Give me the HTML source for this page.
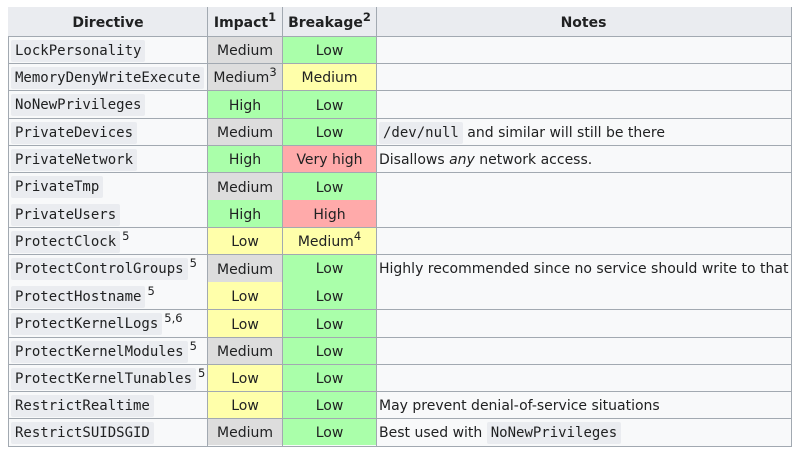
<!DOCTYPE html>
<html><head><meta charset="utf-8"><style>
body{margin:0;width:801px;height:453px;background:#fff;position:relative;overflow:hidden;font-family:"DejaVu Sans","Liberation Sans",sans-serif;font-size:14px;color:#202122}
.t{position:absolute;left:8px;top:7px;width:782px;height:438px;border:1px solid #a2a9b1;background:#f8f9fa}
.hd{position:absolute;left:8px;top:7px;width:783px;height:29px;background:#eaecf0}
.c{position:absolute;display:flex;align-items:center;white-space:nowrap}
.c>span{display:block;line-height:20px;padding-top:2px}
.ctr{justify-content:center}
.v{position:absolute;width:1px;top:7px;height:439px;background:#a2a9b1}
.h{position:absolute;left:8px;width:783px;height:1px;background:#a2a9b1}
code{font-family:"DejaVu Sans Mono","Liberation Mono",monospace;font-size:14px;background:#eaecf0;padding:3px 4px;border-radius:2px;color:#202122}
sup{font-size:11.5px;line-height:0;vertical-align:6px}
sup.s{margin-left:2px}
.g{background:#aaffaa}.y{background:#ffffaa}.m{background:#dddddd}.r{background:#ffaaaa}
.b{font-weight:bold}
</style></head><body>
<div class="t"></div>
<div class="hd"></div>
<div class="c ctr b" style="left:9px;top:7px;width:198px;height:29px"><span>Directive</span></div>
<div class="c ctr b" style="left:208px;top:7px;width:74px;height:29px"><span>Impact<sup>1</sup></span></div>
<div class="c ctr b" style="left:283px;top:7px;width:93px;height:29px"><span>Breakage<sup>2</sup></span></div>
<div class="c ctr b" style="left:377px;top:7px;width:413px;height:29px"><span>Notes</span></div>

<div class="c" style="left:11px;top:36px;height:27px"><span><code>LockPersonality</code></span></div>
<div class="c ctr m" style="left:208px;top:37px;width:74px;height:26px"><span>Medium</span></div>
<div class="c ctr g" style="left:283px;top:37px;width:93px;height:26px"><span>Low</span></div>

<div class="c" style="left:11px;top:63px;height:27px"><span><code>MemoryDenyWriteExecute</code></span></div>
<div class="c ctr m" style="left:208px;top:64px;width:74px;height:26px"><span>Medium<sup>3</sup></span></div>
<div class="c ctr y" style="left:283px;top:64px;width:93px;height:26px"><span>Medium</span></div>

<div class="c" style="left:11px;top:90px;height:28px"><span><code>NoNewPrivileges</code></span></div>
<div class="c ctr g" style="left:208px;top:91px;width:74px;height:27px"><span>High</span></div>
<div class="c ctr g" style="left:283px;top:91px;width:93px;height:27px"><span>Low</span></div>

<div class="c" style="left:11px;top:118px;height:27px"><span><code>PrivateDevices</code></span></div>
<div class="c ctr m" style="left:208px;top:119px;width:74px;height:26px"><span>Medium</span></div>
<div class="c ctr g" style="left:283px;top:119px;width:93px;height:26px"><span>Low</span></div>
<div class="c" style="left:379px;top:118px;height:27px"><span><code>/dev/null</code> and similar will still be there</span></div>

<div class="c" style="left:11px;top:145px;height:27px"><span><code>PrivateNetwork</code></span></div>
<div class="c ctr g" style="left:208px;top:146px;width:74px;height:26px"><span>High</span></div>
<div class="c ctr r" style="left:283px;top:146px;width:93px;height:26px"><span>Very high</span></div>
<div class="c" style="left:379px;top:145px;height:27px"><span>Disallows <i>any</i> network access.</span></div>

<div class="c" style="left:11px;top:172px;height:28px"><span><code>PrivateTmp</code></span></div>
<div class="c ctr m" style="left:208px;top:173px;width:74px;height:27px"><span>Medium</span></div>
<div class="c ctr g" style="left:283px;top:173px;width:93px;height:27px"><span>Low</span></div>

<div class="c" style="left:11px;top:200px;height:27px"><span><code>PrivateUsers</code></span></div>
<div class="c ctr g" style="left:208px;top:200px;width:74px;height:27px"><span>High</span></div>
<div class="c ctr r" style="left:283px;top:200px;width:93px;height:27px"><span>High</span></div>

<div class="c" style="left:11px;top:227px;height:27px"><span><code>ProtectClock</code><sup class="s">5</sup></span></div>
<div class="c ctr y" style="left:208px;top:228px;width:74px;height:26px"><span>Low</span></div>
<div class="c ctr y" style="left:283px;top:228px;width:93px;height:26px"><span>Medium<sup>4</sup></span></div>

<div class="c" style="left:11px;top:254px;height:28px"><span><code>ProtectControlGroups</code><sup class="s">5</sup></span></div>
<div class="c ctr m" style="left:208px;top:255px;width:74px;height:27px"><span>Medium</span></div>
<div class="c g" style="left:283px;top:255px;width:93px;height:54px"></div>
<div class="c ctr" style="left:283px;top:254px;width:93px;height:28px"><span>Low</span></div>
<div class="c" style="left:379px;top:254px;height:28px"><span>Highly recommended since no service should write to that</span></div>

<div class="c" style="left:11px;top:282px;height:27px"><span><code>ProtectHostname</code><sup class="s">5</sup></span></div>
<div class="c ctr y" style="left:208px;top:282px;width:74px;height:27px"><span>Low</span></div>
<div class="c ctr" style="left:283px;top:282px;width:93px;height:27px"><span>Low</span></div>

<div class="c" style="left:11px;top:309px;height:28px"><span><code>ProtectKernelLogs</code><sup class="s">5,6</sup></span></div>
<div class="c ctr y" style="left:208px;top:310px;width:74px;height:27px"><span>Low</span></div>
<div class="c ctr g" style="left:283px;top:310px;width:93px;height:27px"><span>Low</span></div>

<div class="c" style="left:11px;top:337px;height:27px"><span><code>ProtectKernelModules</code><sup class="s">5</sup></span></div>
<div class="c ctr m" style="left:208px;top:338px;width:74px;height:26px"><span>Medium</span></div>
<div class="c ctr g" style="left:283px;top:338px;width:93px;height:26px"><span>Low</span></div>

<div class="c" style="left:11px;top:364px;height:27px"><span><code>ProtectKernelTunables</code><sup class="s">5</sup></span></div>
<div class="c ctr y" style="left:208px;top:365px;width:74px;height:26px"><span>Low</span></div>
<div class="c ctr g" style="left:283px;top:365px;width:93px;height:26px"><span>Low</span></div>

<div class="c" style="left:11px;top:391px;height:27px"><span><code>RestrictRealtime</code></span></div>
<div class="c ctr y" style="left:208px;top:392px;width:74px;height:26px"><span>Low</span></div>
<div class="c ctr g" style="left:283px;top:392px;width:93px;height:26px"><span>Low</span></div>
<div class="c" style="left:379px;top:391px;height:27px"><span>May prevent denial-of-service situations</span></div>

<div class="c" style="left:11px;top:418px;height:27px"><span><code>RestrictSUIDSGID</code></span></div>
<div class="c ctr m" style="left:208px;top:419px;width:74px;height:26px"><span>Medium</span></div>
<div class="c ctr g" style="left:283px;top:419px;width:93px;height:26px"><span>Low</span></div>
<div class="c" style="left:379px;top:418px;height:27px"><span>Best used with <code>NoNewPrivileges</code></span></div>

<div class="v" style="left:207px"></div>
<div class="v" style="left:282px"></div>
<div class="v" style="left:376px"></div>
<div class="h" style="top:36px"></div>
<div class="h" style="top:63px"></div>
<div class="h" style="top:90px"></div>
<div class="h" style="top:118px"></div>
<div class="h" style="top:145px"></div>
<div class="h" style="top:172px"></div>
<div class="h" style="top:227px"></div>
<div class="h" style="top:254px"></div>
<div class="h" style="top:309px"></div>
<div class="h" style="top:337px"></div>
<div class="h" style="top:364px"></div>
<div class="h" style="top:391px"></div>
<div class="h" style="top:418px"></div>
</body></html>
